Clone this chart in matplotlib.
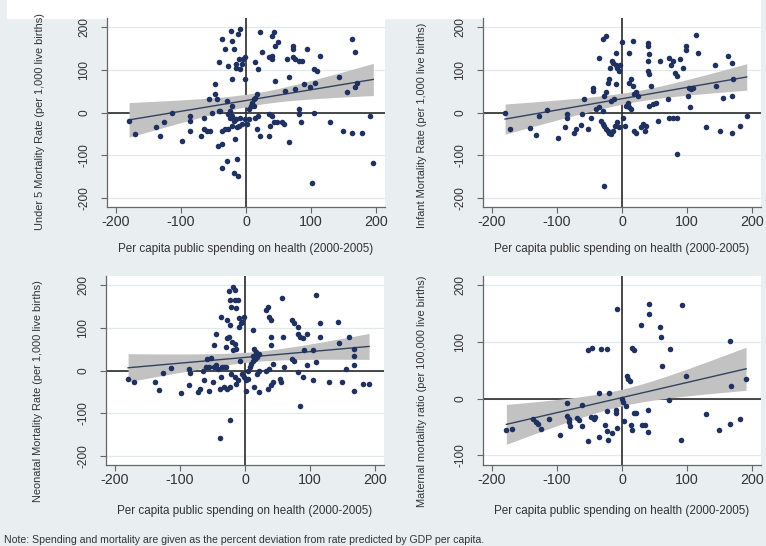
import numpy as np
import matplotlib.pyplot as plt
from matplotlib.patches import Rectangle

plt.rcParams['font.family'] = ['Liberation Sans', 'DejaVu Sans']
plt.rcParams['axes.unicode_minus'] = False

W, H = 766, 546

# deviation from GDP-predicted values, percent
u5_x = [-180, -171, -139, -132, -127, -114, -98, -86, -86, -86, -65, -65, -70, -60, -55,
        -57, -47, -47, -45, -52, -42, -40, -42, -43, -37, -37, -33, -29, -28, -27, -25,
        -22, -21, -24, -37, -29, -19, -12, -14, -22, -19, -16, -14, -11, -9, -6, -17,
        -27, -16, -22, -19, -22, -23, -12, -9, -10, -6, -4, -1, -16, -11, -1, -37, -32,
        -1, 1.5, 4, 4, 7, 9, 12, 14, 17, 12, 14, 17, 19, 22, 18, 22, 25, 40, 35, 37, 35,
        43, 40, 50, 40, 40, 45, 43, 48, 55, 63, 60, 66, 66, 73, 73, 73, 76, 81, 86, 76,
        81, 81, 84, 89, 94, 99, 102, 104, 104, 109, 106, 114, 130, 143, 150, 155, 163,
        168, 168, 171, 163, 179, 191, 196, 14, 35, 45, 58]
u5_y = [-20, -51, -35, -55, -22, 0, -66, -8, -20, -43, -12, -39, -55, -43, -43,
        31, 66, 43, 31, 0, 4, 4, 117, -78, -74, -43, -39, 27, -4, -39, 4,
        16, -8, -12, -129, -113, -141, -148, -109, -31, -20, -16, -35, -31, -12, -27, -63,
        109, 105, 78, 148, 168, 191, 183, 196, 101, 113, 125, 129, 113, 125, 78, 172, 148,
        -16, -27, -16, 8, 16, 23, 31, 35, 43, 16, -12, -39, -8, -55, 101, 188, 141, -8, -4, -31, -55,
        188, 180, 164, 133, 125, 74, -23, -23, -23, 125, 51, 82, -70, 156, 148, 129, 125, 121, 121, 55,
        8, -4, -23, 66, 148, 59, -164, 0, 101, 98, 70, 133, -23, 82, -43, 47, 172,
        141, 59, 70, -47, -47, -8, -117, 117, 129, 156, -27]

imr_x = [-180, -172, -141, -132, -128, -115, -98, -87, -84, -84, -74, -71, -63, -61, -58,
         -53, -48, -45, -44, -40, -35, -32, -29, -27, -24, -22, -20, -17, -30, -35, -30,
         -24, -27, -25, -22, -20, -18, -15, -14, -10, -9, -7, -4, -3, -9, -14, -11, -7,
         -4, -12, -17, -27, 0, 1, 4, 6, 9, 11, 14, 11, 14, 11, 17, 17, 19, 22, 24, 19, 22,
         29, 32, 35, 37, 40, 40, 42, 40, 40, 42, 42, 45, 47, 53, 55, 58, 71, 73, 76, 78,
         73, 78, 84, 81, 84, 84, 89, 94, 99, 99, 102, 103, 107, 109, 104, 114, 117, 130,
         143, 145, 151, 156, 163, 169, 169, 169, 171, 181, 192]
imr_y = [-2, -39, -37, -53, -8, 6, -60, -35, -4, -12, -47, -39, -29, -4, 31,
         -39, -12, 58, 50, 8, 12, -19, -27, -32, -39, -43, -47, -50, 4, 128, 172,
         178, 39, 47, 70, 78, 105, 120, 116, 140, 112, 105, 97, 112, 66, -43, -31, -23,
         -35, 31, 27, -171, 164, -12, -31, 16, 23, 14, 8, 140, 78, 70, 167, 62, 43, 47, 39, -43, -47,
         -35, -27, -43, -31, 163, 155, 136, 120, 97, 89, 16, 62, 19, 23, -19, 120, 31, 128, 112, 120,
         -12, -12, -12, 93, 85, -97, 124, 105, 147, 155, 39, 58, 54, 58, 12, 182, 140, -35,
         112, 62, -43, 35, 132, 116, 39, -47, 78, -31, -8]

nmr_x = [-180, -171, -139, -132, -127, -114, -98, -86, -84, -86, -73, -70, -65, -63, -60,
         -55, -58, -52, -55, -50, -47, -45, -47, -45, -38, -42, -37, -37, -35, -33, -29,
         -32, -29, -28, -24, -27, -23, -25, -19, -16, -23, -16, -11, -21, -14, -20, -16,
         -14, -19, -22, -16, -11, -14, -23, -27, -9, -6, -4, -9, -1, -7, -4, -1, 1.5, 4,
         1.5, 5, 8, 10, 13, 15, 18, 22, 12, 14, 17, 13, 22, 14, 19, 22, 32, 37, 32, 35, 37,
         40, 40, 40, 35, 40, 43, 43, 54, 55, 57, 58, 60, 73, 76, 73, 76, 81, 81, 84, 89,
         81, 84, 89, 91, 96, 96, 104, 104, 109, 109, 116, 116, 130, 143, 144, 150, 155,
         160, 168, 168, 168, 168, 181, 191, -23, -38]
nmr_y = [-20, -27, -27, -45, -6, 5, -53, 4, -6, -35, -51, -43, 0, -22, 8,
         8, 27, 30, -47, -27, 8, 12, 59, 86, -43, 4, 125, -16, 8, 8, 8,
         -39, 56, 75, 78, 118, 106, 187, 196, 188, 166, 166, 165, 149, 145, 67, 63,
         51, 47, -8, -16, -23, -31, -39, -43, 102, 110, 114, 122, 125, 23, -8, -16, -23, -20,
         -47, 0, 8, 16, 22, 27, 31, 39, 94, 51, 43, 35, -51, -39, -8, 0, 0, 4, 141, 149, 125,
         118, 78, 59, -43, -35, -27, 16, -20, -27, 169, 78, 8, 27, 23, 118, 110, 102, 86, 78, 75,
         -4, -82, -16, 47, 86, 12, 47, -23, 176, 20, 110, 78, -27, 114, 64, -27, 4,
         78, 51, 35, 12, -47, -31, -31, -115, -157]

mmr_x = [-178, -169, -137, -132, -130, -125, -112, -96, -85, -84, -82, -81, -80, -69, -66,
         -61, -61, -52, -46, -52, -48, -43, -41, -36, -35, -33, -26, -23, -23, -23, -21,
         -20, -15, -10, -9, -8, -8, 0, 1, 3, 6, 8, 10, 12, 15, 19, 14, 16, 18, 21, 30, 31,
         35, 40, 40, 42, 42, 59, 60, 61, 73, 74, 91, 93, 98, 130, 149, 166, 167, 168, 181, 191]
mmr_y = [-55, -53, -36, -41, -45, -54, -36, -64, -8, -30, -36, -41, -48, -35, -37,
         -12, -48, 85, 89, -75, -33, -36, -32, 9, -68, 87, -47, 88, -22, -57, -73,
         9, -60, -20, -26, -51, 158, -1, -6, -39, -13, 40, 34, 31, 89, 85, -47, -55, -25, -26, 129, -47,
         -47, -20, -58, 167, 149, 126, 108, 58, -2, 87, -73, 165, 40, -27, -56, 102, -45, 23, -36, 34]

x_ticks = [-200, -100, 0, 100, 200]
y_ticks_births = [-200, -100, 0, 100, 200]
y_ticks_maternal = [-100, 0, 100, 200]

x_title = 'Per capita public spending on health (2000-2005)'
note = ('Note: Spending and mortality are given as the percent deviation '
        'from rate predicted by GDP per capita.')

BG = '#e9eef0'
GRID = '#e2e9ed'
DOT = '#1f3160'
FIT = '#34425e'
BAND = '#c2c2c2'
REF = '#2a2a2a'
AXIS = '#666666'
TEXT = '#333333'


def add_panel(fig, box):
    left, top, right, bottom = box
    return fig.add_axes([left / W, 1 - bottom / H, (right - left) / W, (bottom - top) / H])


def draw(ax, x, y, ylabel, yticks, ylim, ylab_pos, xlab_y):
    x = np.asarray(x, float)
    y = np.asarray(y, float)
    ax.set_facecolor('white')
    ax.set_xlim(-214, 214)
    ax.set_ylim(*ylim)
    ax.set_xticks(x_ticks)
    ax.set_yticks(yticks)
    ax.yaxis.grid(True, color=GRID, lw=0.9)
    ax.set_axisbelow(True)

    ax.axhline(0, color=REF, lw=1.2, zorder=1)
    ax.axvline(0, color=REF, lw=1.2, zorder=1)

    # linear fit with 95% confidence band
    n = len(x)
    b, a = np.polyfit(x, y, 1)
    resid = y - (a + b * x)
    s = np.sqrt((resid ** 2).sum() / (n - 2))
    xs = np.linspace(x.min(), x.max(), 120)
    se = s * np.sqrt(1 / n + (xs - x.mean()) ** 2 / ((x - x.mean()) ** 2).sum())
    fit = a + b * xs
    ax.fill_between(xs, fit - 1.98 * se, fit + 1.98 * se, color=BAND, lw=0, zorder=2)
    ax.plot(xs, fit, color=FIT, lw=1.0, zorder=3)

    ax.scatter(x, y, s=16, color=DOT, lw=0, zorder=4)

    for side in ['top', 'right']:
        ax.spines[side].set_visible(False)
    for side in ['left', 'bottom']:
        ax.spines[side].set_color(AXIS)
        ax.spines[side].set_linewidth(0.9)

    ax.tick_params(axis='x', direction='out', length=4, color=AXIS,
                   labelsize=10.3, labelcolor=TEXT, pad=1.5)
    ax.tick_params(axis='y', direction='out', length=4, color=AXIS,
                   labelsize=8.6, labelcolor=TEXT, pad=8)
    for lab in ax.get_yticklabels():
        lab.set_rotation(90)
        lab.set_va('center')

    ax.set_xlabel(x_title, fontsize=8.4, color=TEXT)
    ax.xaxis.set_label_coords(0.5, xlab_y)
    ax.set_ylabel(ylabel, fontsize=7.9, color=TEXT)
    ax.yaxis.set_label_coords(*ylab_pos)


fig = plt.figure(figsize=(W / 100, H / 100), dpi=100)
fig.patch.set_facecolor(BG)
fig.patches.append(Rectangle((7 / W, 1 - 18 / H), 753 / W, 18 / H,
                             transform=fig.transFigure, color='white', zorder=-1))

ax1 = add_panel(fig, (107, 18, 385, 207))
ax2 = add_panel(fig, (483, 18, 761, 207))
ax3 = add_panel(fig, (106, 276, 384, 465))
ax4 = add_panel(fig, (483, 276, 761, 465))

draw(ax1, u5_x, u5_y, 'Under 5 Mortality Rate (per 1,000 live births)',
     y_ticks_births, (-221, 221), (-0.223, 0.45), -0.19)
draw(ax2, imr_x, imr_y, 'Infant Mortality Rate (per 1,000 live births)',
     y_ticks_births, (-221, 221), (-0.201, 0.43), -0.19)
draw(ax3, nmr_x, nmr_y, 'Neonatal Mortality Rate (per 1,000 live births)',
     y_ticks_births, (-221, 221), (-0.227, 0.39), -0.212)
draw(ax4, mmr_x, mmr_y, 'Maternal mortality ratio (per 100,000 live births)',
     y_ticks_maternal, (-117, 216), (-0.201, 0.39), -0.212)

fig.text(4 / W, 1 - 540 / H, note, fontsize=7.6, color=TEXT, ha='left', va='center')

fig.savefig('out.png', dpi=100, facecolor=BG)
